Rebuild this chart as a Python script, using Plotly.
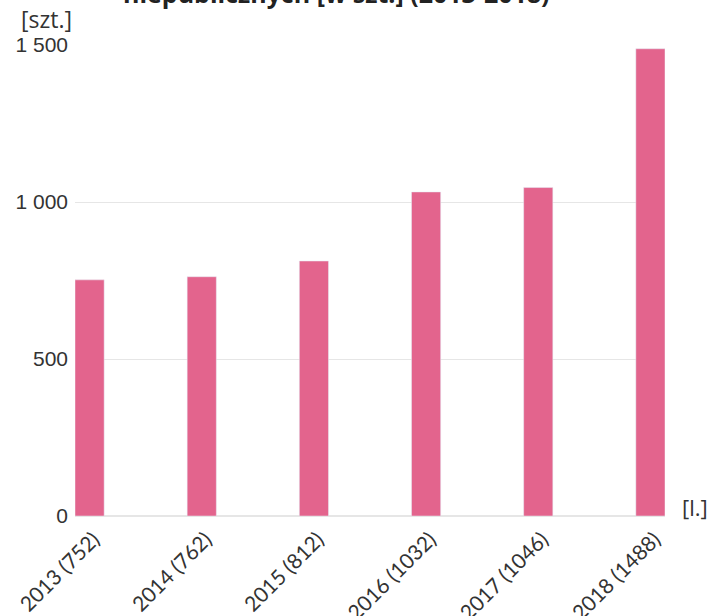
import plotly.graph_objects as go

years = ["2013", "2014", "2015", "2016", "2017", "2018"]
values = [752, 762, 812, 1032, 1046, 1488]
tick_labels = [f"{y} ({v})" for y, v in zip(years, values)]
y_ticks = [0, 500, 1000, 1500]
y_tick_text = ["0", "500", "1 000", "1 500"]
title_text = "niepublicznych [w szt.] (2013-2018)"

fig = go.Figure(go.Bar(
    x=tick_labels, y=values, marker_color="#e3648d", width=0.26,
))

fig.update_layout(
    width=712, height=616,
    margin=dict(l=75, r=47, t=45, b=100),
    plot_bgcolor="white", paper_bgcolor="white",
    showlegend=False,
    xaxis=dict(range=[-0.13, 5.13], tickangle=-45, showgrid=False, showline=False,
               ticks="", automargin=False, ticklabelstandoff=6, ticklabelshift=4,
               tickfont=dict(family="Lato", size=21, color="#333")),
    yaxis=dict(range=[0, 1500], tickvals=y_ticks, ticktext=y_tick_text,
               gridcolor="#e6e6e6", zerolinecolor="#e6e6e6", showline=False,
               ticks="", ticklabelstandoff=6, automargin=False,
               tickfont=dict(family="Liberation Sans", size=21, color="#333")),
    annotations=[
        dict(text="<b>" + title_text + "</b>", xref="paper", yref="paper", x=0.444, y=1,
             xanchor="center", yanchor="bottom", yshift=33, showarrow=False,
             font=dict(family="Open Sans", size=25, color="#222")),
        dict(text="[szt.]", xref="paper", yref="paper", x=0, y=1, xanchor="right",
             yanchor="bottom", xshift=-1, yshift=8, showarrow=False,
             font=dict(family="Open Sans", size=23, color="#333")),
        dict(text="[l.]", xref="paper", yref="paper", x=1, y=0, xanchor="left",
             yanchor="middle", xshift=15, yshift=9, showarrow=False,
             font=dict(family="Open Sans", size=22, color="#333")),
    ],
)

fig.write_html("out.html", config={"displayModeBar": False},
               post_script="document.body.style.margin='0';")
